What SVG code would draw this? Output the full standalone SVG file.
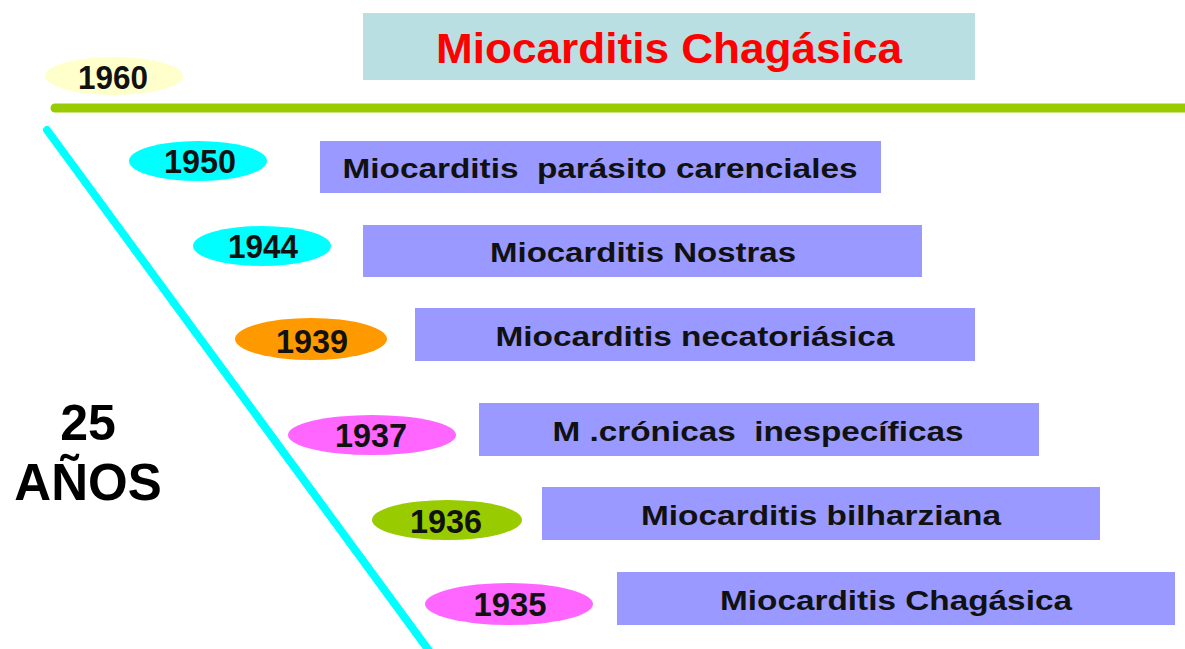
<svg xmlns="http://www.w3.org/2000/svg" width="1185" height="649" viewBox="0 0 1185 649">
<style>
text{font-family:"Liberation Sans",Arial,sans-serif;font-weight:bold;text-anchor:middle}
.yr{font-size:33px;fill:#111}
.bar{fill:#9999ff}
.bt{font-size:28px;fill:#111}
</style>
<rect width="1185" height="649" fill="#ffffff"/>
<g id="connectors">
<line x1="55" y1="108" x2="1185" y2="108" stroke="#99cc00" stroke-width="9" stroke-linecap="round"/>
<line x1="47" y1="130" x2="430" y2="652" stroke="#00ffff" stroke-width="8" stroke-linecap="round"/>
</g>
<g id="title">
<rect x="363" y="13" width="612" height="67" fill="#b9dfe3"/>
<text x="669" y="63" font-size="42" fill="#ff0000" textLength="466" lengthAdjust="spacingAndGlyphs">Miocarditis Chagásica</text>
</g>
<g id="y1960"><ellipse cx="114" cy="76" rx="69" ry="19" fill="#ffffcc"/><text class="yr" x="113" y="89" textLength="70" lengthAdjust="spacingAndGlyphs">1960</text></g>
<g id="y1950"><ellipse cx="198" cy="161" rx="69" ry="20" fill="#00ffff"/><text class="yr" x="200" y="173" textLength="72" lengthAdjust="spacingAndGlyphs">1950</text></g>
<g id="y1944"><ellipse cx="262" cy="246" rx="69" ry="20" fill="#00ffff"/><text class="yr" x="263" y="258" textLength="70" lengthAdjust="spacingAndGlyphs">1944</text></g>
<g id="y1939"><ellipse cx="311" cy="339" rx="76" ry="21" fill="#ff9900"/><text class="yr" x="312" y="353" textLength="72" lengthAdjust="spacingAndGlyphs">1939</text></g>
<g id="y1937"><ellipse cx="372" cy="435" rx="84" ry="20" fill="#ff66ff"/><text class="yr" x="371" y="447" textLength="72" lengthAdjust="spacingAndGlyphs">1937</text></g>
<g id="y1936"><ellipse cx="447" cy="520" rx="75" ry="20" fill="#99cc00"/><text class="yr" x="446" y="533" textLength="72" lengthAdjust="spacingAndGlyphs">1936</text></g>
<g id="y1935"><ellipse cx="509" cy="604" rx="84" ry="21" fill="#ff66ff"/><text class="yr" x="510" y="616" textLength="73" lengthAdjust="spacingAndGlyphs">1935</text></g>
<g id="bar1"><rect class="bar" x="320" y="141" width="561" height="52"/><text class="bt" x="600" y="178" xml:space="preserve" textLength="515" lengthAdjust="spacingAndGlyphs">Miocarditis  parásito carenciales</text></g>
<g id="bar2"><rect class="bar" x="363" y="225" width="559" height="52"/><text class="bt" x="643" y="262" textLength="306" lengthAdjust="spacingAndGlyphs">Miocarditis Nostras</text></g>
<g id="bar3"><rect class="bar" x="415" y="308" width="560" height="53"/><text class="bt" x="695" y="346" textLength="399" lengthAdjust="spacingAndGlyphs">Miocarditis necatoriásica</text></g>
<g id="bar4"><rect class="bar" x="479" y="403" width="560" height="53"/><text class="bt" x="758" y="441" xml:space="preserve" textLength="411" lengthAdjust="spacingAndGlyphs">M .crónicas  inespecíficas</text></g>
<g id="bar5"><rect class="bar" x="542" y="487" width="558" height="53"/><text class="bt" x="821" y="525" textLength="360" lengthAdjust="spacingAndGlyphs">Miocarditis bilharziana</text></g>
<g id="bar6"><rect class="bar" x="617" y="572" width="558" height="53"/><text class="bt" x="896" y="610" textLength="352" lengthAdjust="spacingAndGlyphs">Miocarditis Chagásica</text></g>
<g id="span">
<text x="88" y="440" font-size="50" fill="#000">25</text>
<text x="88" y="500" font-size="51" fill="#000">AÑOS</text>
</g>
</svg>
